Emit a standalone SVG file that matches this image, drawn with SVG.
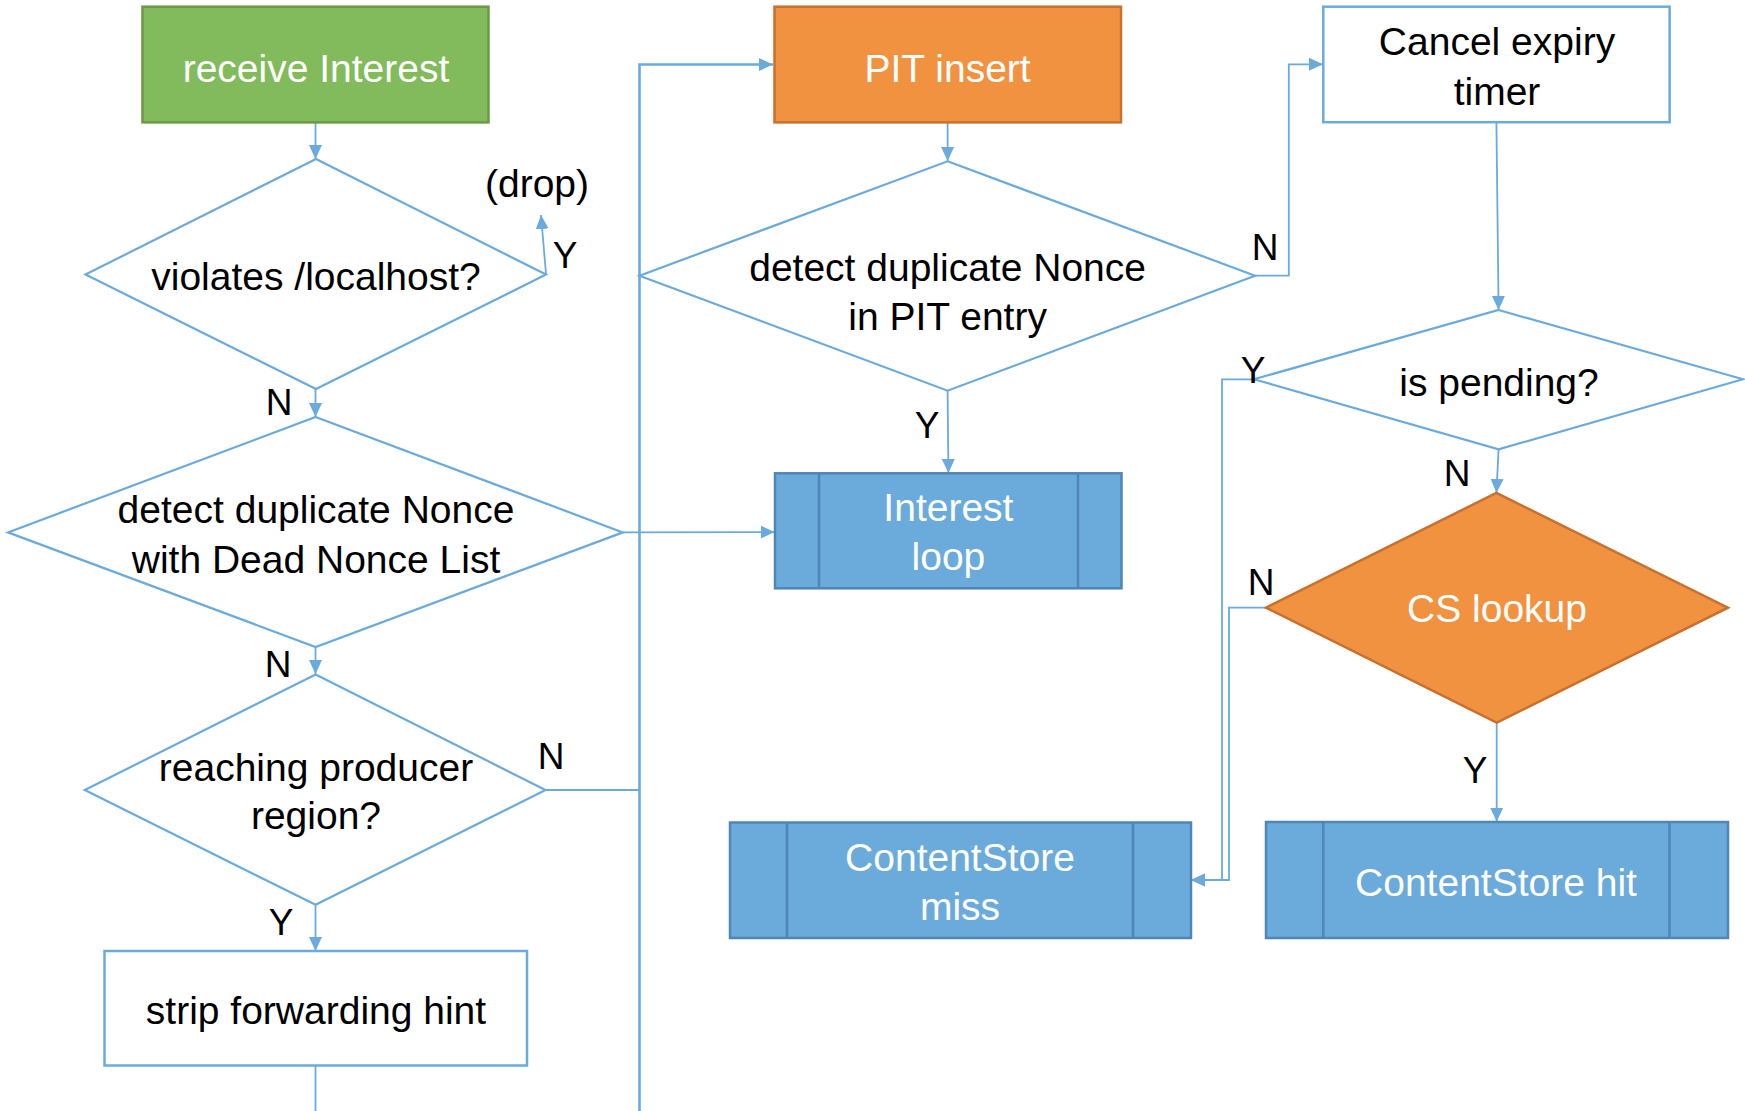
<svg xmlns="http://www.w3.org/2000/svg" width="1745" height="1111" viewBox="0 0 1745 1111">
<defs>
<style>
text{font-family:"Liberation Sans",Arial,sans-serif;font-size:39px;text-anchor:middle;fill:#000;stroke:none}
.w{fill:#fff}
.lbl{font-size:37px}
.dia{fill:#fff;stroke:#6aaadc;stroke-width:2.2}
.box{fill:#fff;stroke:#6aaadc;stroke-width:2.5}
.green{fill:#82bb5c;stroke:#6a9a48;stroke-width:2.5}
.orange{fill:#f19241;stroke:#c8702e;stroke-width:2.5}
.sub rect{fill:#6babdc;stroke:#4f86b5;stroke-width:2.5}
.sub line{stroke:#4f86b5;stroke-width:2.5}
.sub text{fill:#fff;stroke:none}
.c{fill:none;stroke:#6aaadc;stroke-width:1.8}
.t{fill:none;stroke:#6aaadc;stroke-width:2.6}
</style>
<marker id="ah" markerUnits="userSpaceOnUse" markerWidth="16" markerHeight="14" refX="14" refY="7" orient="auto">
<path d="M0,0.5 L14,7 L0,13.5 z" fill="#6aaadc"/>
</marker>
</defs>
<rect width="1745" height="1111" fill="#fff"/>

<g id="connectors">
<path class="c" d="M315.5,123 V159" marker-end="url(#ah)"/>
<path class="c" d="M546,274 L541,215" marker-end="url(#ah)"/>
<path class="c" d="M315.5,389 V417" marker-end="url(#ah)"/>
<path class="c" d="M315.5,647 V674" marker-end="url(#ah)"/>
<path class="c" d="M315.5,905 V951" marker-end="url(#ah)"/>
<path class="c" d="M315.5,1066 V1111"/>
<path class="c" d="M545.5,790 H639.5"/>
<path class="t" d="M639.5,1111 V64.5 H773" marker-end="url(#ah)"/>
<path class="c" d="M622.8,532.4 L774.6,532" marker-end="url(#ah)"/>
<path class="c" d="M947.6,123 V161" marker-end="url(#ah)"/>
<path class="c" d="M947.6,391 L948.4,473" marker-end="url(#ah)"/>
<path class="c" d="M1255,275.7 H1288.8 V64.3 H1323" marker-end="url(#ah)"/>
<path class="c" d="M1496.4,122 L1498.6,310" marker-end="url(#ah)"/>
<path class="c" d="M1498.6,449.3 L1496.4,492.9" marker-end="url(#ah)"/>
<path class="c" d="M1253.9,379.3 H1222 V880 H1191" marker-end="url(#ah)"/>
<path class="c" d="M1266,607.7 H1229 V880 H1191" marker-end="url(#ah)"/>
<path class="c" d="M1496.7,722.7 V821.7" marker-end="url(#ah)"/>
</g>

<g id="receive-interest">
<rect class="green" x="142.5" y="6.7" width="346" height="115.7"/>
<text class="w" x="316" y="82">receive Interest</text>
</g>

<g id="violates-localhost">
<polygon class="dia" points="316,159 546,274.5 316,389 85.5,274.5"/>
<text x="316" y="290">violates /localhost?</text>
</g>

<g id="drop">
<text x="537" y="197">(drop)</text>
</g>

<g id="dup-dead-nonce">
<polygon class="dia" points="315.6,417 622.8,532.4 315.6,647 8,532.4"/>
<text x="316" y="523">detect duplicate Nonce</text>
<text x="316" y="573">with Dead Nonce List</text>
</g>

<g id="reaching-producer">
<polygon class="dia" points="315.6,674.4 545.5,790 315.6,904.8 84.8,790"/>
<text x="316" y="781">reaching producer</text>
<text x="316" y="829">region?</text>
</g>

<g id="strip-forwarding-hint">
<rect class="box" x="104.5" y="951" width="422.5" height="114.5"/>
<text x="316" y="1024">strip forwarding hint</text>
</g>

<g id="pit-insert">
<rect class="orange" x="774.5" y="6.7" width="346.5" height="115.7"/>
<text class="w" x="947.6" y="82">PIT insert</text>
</g>

<g id="dup-pit-entry">
<polygon class="dia" points="947.6,161.3 1255,275.7 947.6,390.7 639.5,275.7"/>
<text x="947.6" y="281">detect duplicate Nonce</text>
<text x="947.6" y="330">in PIT entry</text>
</g>

<g id="interest-loop" class="sub">
<rect x="775" y="473.3" width="346.5" height="115"/>
<line x1="819" y1="473.3" x2="819" y2="588.3"/>
<line x1="1078" y1="473.3" x2="1078" y2="588.3"/>
<text x="948.4" y="521">Interest</text>
<text x="948.4" y="570">loop</text>
</g>

<g id="cancel-expiry-timer">
<rect class="box" x="1323.3" y="6.7" width="346.3" height="115.5"/>
<text x="1497" y="55">Cancel expiry</text>
<text x="1497" y="105">timer</text>
</g>

<g id="is-pending">
<polygon class="dia" points="1498.6,310 1743,379.3 1498.6,449.3 1253.9,379.3"/>
<text x="1499" y="396">is pending?</text>
</g>

<g id="cs-lookup">
<polygon class="orange" points="1496.4,492.9 1728,607.7 1496.7,722.7 1266,607.7"/>
<text class="w" x="1497" y="622">CS lookup</text>
</g>

<g id="cs-miss" class="sub">
<rect x="730" y="822.5" width="461" height="115.5"/>
<line x1="787" y1="822.5" x2="787" y2="938"/>
<line x1="1133" y1="822.5" x2="1133" y2="938"/>
<text x="960" y="871">ContentStore</text>
<text x="960" y="920">miss</text>
</g>

<g id="cs-hit" class="sub">
<rect x="1266" y="822" width="462" height="116"/>
<line x1="1323.3" y1="822" x2="1323.3" y2="938"/>
<line x1="1669.5" y1="822" x2="1669.5" y2="938"/>
<text x="1496" y="896">ContentStore hit</text>
</g>

<g id="labels">
<text class="lbl" x="565" y="268">Y</text>
<text class="lbl" x="279" y="415">N</text>
<text class="lbl" x="278" y="677">N</text>
<text class="lbl" x="551" y="769">N</text>
<text class="lbl" x="281" y="935">Y</text>
<text class="lbl" x="927" y="438">Y</text>
<text class="lbl" x="1265" y="260">N</text>
<text class="lbl" x="1253" y="383">Y</text>
<text class="lbl" x="1457" y="486">N</text>
<text class="lbl" x="1261" y="595">N</text>
<text class="lbl" x="1475" y="783">Y</text>
</g>
</svg>
